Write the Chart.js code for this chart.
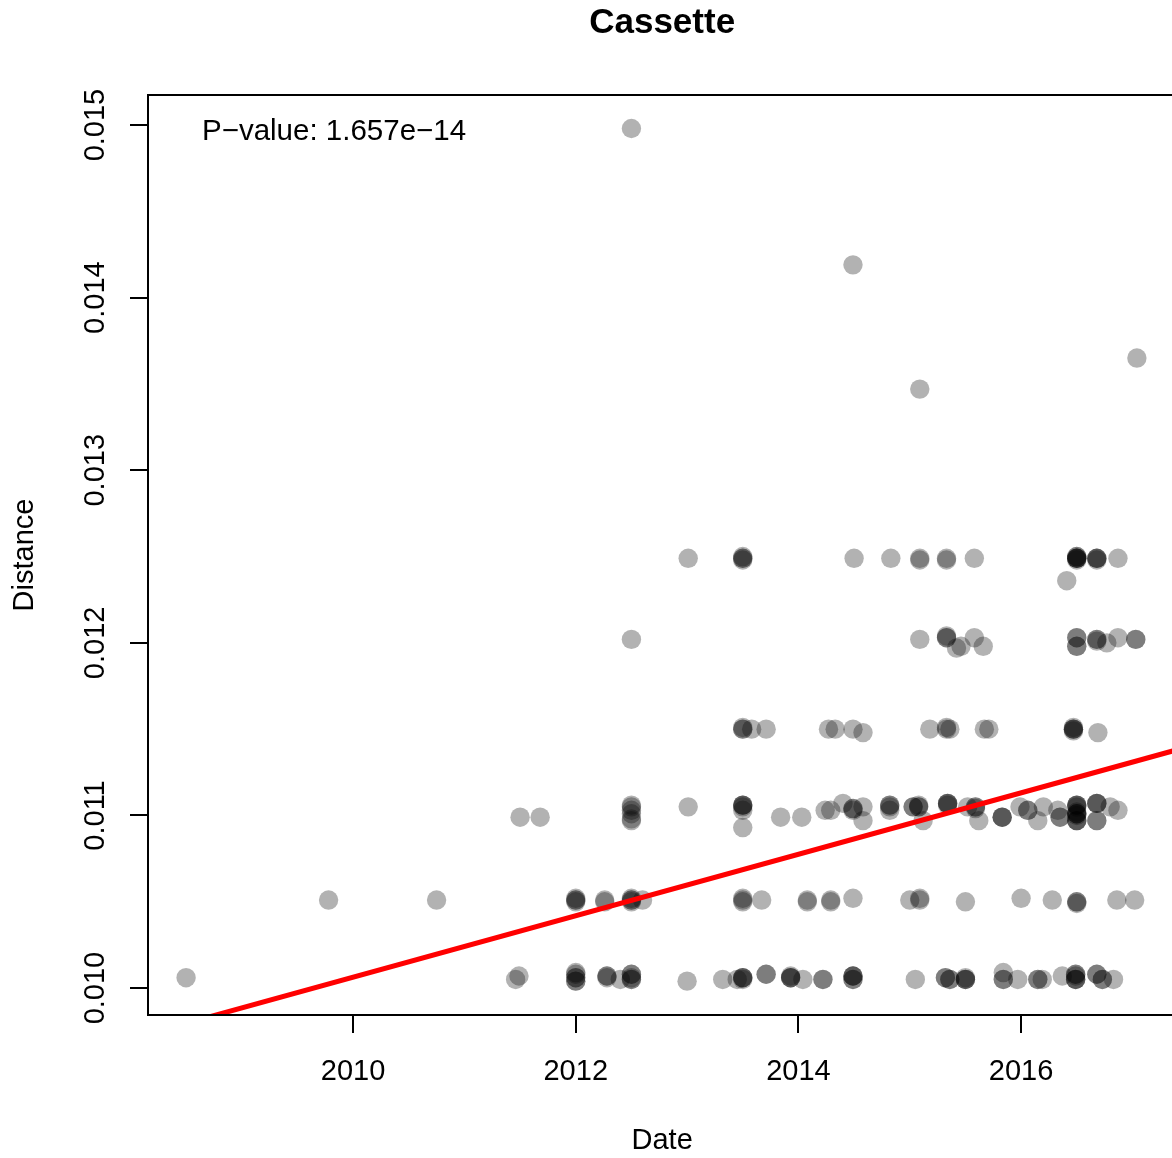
<!DOCTYPE html>
<html>
<head>
<meta charset="utf-8">
<title>Cassette</title>
<script src="https://cdn.jsdelivr.net/npm/chart.js@4.4.1/dist/chart.umd.min.js"></script>
<style>
  html, body { margin: 0; padding: 0; background: #fff; overflow: hidden; }
  #wrap { width: 1186px; height: 1158px; }
</style>
</head>
<body>
<div id="wrap"><canvas id="distChart" width="1186" height="1158"></canvas></div>
<script>
// observation dates (decimal years) and their distances, row by row
const dates = [
  // outliers
  2012.50, 2014.49, 2015.09, 2017.04,
  // ~0.0125
  2013.01, 2013.50, 2013.50, 2013.50, 2013.50, 2014.50, 2014.83, 2015.09, 2015.09,
  2015.33, 2015.33, 2015.58, 2016.41, 2016.50, 2016.50, 2016.50, 2016.50, 2016.50,
  2016.50, 2016.50, 2016.68, 2016.68, 2016.68, 2016.68, 2016.87,
  // ~0.012
  2012.50, 2015.09, 2015.33, 2015.33, 2015.33, 2015.42, 2015.46, 2015.58, 2015.66,
  2016.50, 2016.50, 2016.50, 2016.50, 2016.68, 2016.68, 2016.68, 2016.77, 2016.87,
  2017.03, 2017.03,
  // ~0.0115
  2013.50, 2013.50, 2013.50, 2013.58, 2013.71, 2014.27, 2014.33, 2014.49, 2014.58,
  2015.18, 2015.33, 2015.33, 2015.36, 2015.67, 2015.71, 2016.47, 2016.47, 2016.47,
  2016.47, 2016.47, 2016.69,
  // ~0.011
  2011.50, 2011.68,
  2012.50, 2012.50, 2012.50, 2012.50, 2012.50, 2012.50,
  2013.01,
  2013.50, 2013.50, 2013.50, 2013.50, 2013.50, 2013.50,
  2013.84, 2014.03, 2014.24, 2014.29, 2014.40,
  2014.49, 2014.49, 2014.49,
  2014.58, 2014.58,
  2014.82, 2014.82, 2014.82, 2014.82,
  2015.03, 2015.03,
  2015.08, 2015.08, 2015.08,
  2015.12,
  2015.34, 2015.34, 2015.34, 2015.34,
  2015.52,
  2015.59, 2015.59, 2015.59,
  2015.62,
  2015.83, 2015.83, 2015.83,
  2015.99, 2016.06, 2016.06, 2016.15, 2016.20, 2016.33, 2016.35, 2016.35,
  2016.50, 2016.50, 2016.50, 2016.50, 2016.50, 2016.50, 2016.50, 2016.50, 2016.50, 2016.50,
  2016.50, 2016.50,
  2016.68, 2016.68, 2016.68, 2016.68, 2016.68,
  2016.80, 2016.87,
  // ~0.0105
  2009.78, 2010.75,
  2012.00, 2012.00, 2012.00, 2012.00,
  2012.26, 2012.26,
  2012.50, 2012.50, 2012.50, 2012.50, 2012.60,
  2013.50, 2013.50, 2013.50, 2013.67,
  2014.08, 2014.08, 2014.29, 2014.29, 2014.49,
  2015.00, 2015.09, 2015.09, 2015.50,
  2016.00, 2016.28, 2016.50, 2016.50, 2016.50,
  2016.86, 2017.02,
  // ~0.010
  2008.50, 2011.46, 2011.49,
  2012.00, 2012.00, 2012.00, 2012.00, 2012.00, 2012.00,
  2012.28, 2012.28, 2012.28, 2012.40,
  2012.50, 2012.50, 2012.50, 2012.50, 2012.50,
  2013.00, 2013.32, 2013.45,
  2013.50, 2013.50, 2013.50, 2013.50,
  2013.71, 2013.71,
  2013.93, 2013.93, 2013.93, 2013.93,
  2014.04, 2014.22, 2014.22,
  2014.49, 2014.49, 2014.49, 2014.49, 2014.49,
  2015.05, 2015.32, 2015.32, 2015.36, 2015.36,
  2015.50, 2015.50, 2015.50, 2015.50,
  2015.84, 2015.84, 2015.84, 2015.97,
  2016.15, 2016.15, 2016.19, 2016.37,
  2016.49, 2016.49, 2016.49, 2016.49, 2016.49, 2016.49,
  2016.68, 2016.68, 2016.73, 2016.73, 2016.83
];

const distances = [
  // outliers
  0.01498, 0.01419, 0.01347, 0.01365,
  // ~0.0125
  0.01249, 0.01249, 0.01250, 0.01249, 0.01248, 0.01249, 0.01249, 0.01249, 0.01248,
  0.01249, 0.01248, 0.01249, 0.01236, 0.01250, 0.01249, 0.01249, 0.01248, 0.01249,
  0.01250, 0.01249, 0.01249, 0.01248, 0.01249, 0.01249, 0.01249,
  // ~0.012
  0.01202, 0.01202, 0.01204, 0.01203, 0.01203, 0.01197, 0.01198, 0.01203, 0.01198,
  0.01203, 0.01203, 0.01198, 0.01198, 0.01202, 0.01202, 0.01201, 0.01200, 0.01203,
  0.01202, 0.01202,
  // ~0.0115
  0.01150, 0.01151, 0.01150, 0.01150, 0.01150, 0.01150, 0.01150, 0.01150, 0.01148,
  0.01150, 0.01150, 0.01151, 0.01150, 0.01150, 0.01150, 0.01150, 0.01151, 0.01150,
  0.01149, 0.01150, 0.01148,
  // ~0.011
  0.01099, 0.01099,
  0.01106, 0.01105, 0.01101, 0.01098, 0.01097, 0.01103,
  0.01105,
  0.01106, 0.01106, 0.01105, 0.01103, 0.01093, 0.01106,
  0.01099, 0.01099, 0.01103, 0.01103, 0.01107,
  0.01104, 0.01104, 0.01103,
  0.01097, 0.01105,
  0.01106, 0.01106, 0.01105, 0.01103,
  0.01105, 0.01105,
  0.01105, 0.01105, 0.01106,
  0.01097,
  0.01107, 0.01107, 0.01107, 0.01106,
  0.01105,
  0.01105, 0.01105, 0.01104,
  0.01097,
  0.01099, 0.01099, 0.01099,
  0.01105, 0.01103, 0.01103, 0.01097, 0.01105, 0.01103, 0.01099, 0.01099,
  0.01106, 0.01106, 0.01106, 0.01105, 0.01101, 0.01101, 0.01101, 0.01097, 0.01097, 0.01097,
  0.01102, 0.01100,
  0.01107, 0.01107, 0.01107, 0.01097, 0.01097,
  0.01105, 0.01103,
  // ~0.0105
  0.01051, 0.01051,
  0.01051, 0.01052, 0.01051, 0.01050,
  0.01051, 0.01050,
  0.01052, 0.01051, 0.01051, 0.01050, 0.01051,
  0.01052, 0.01051, 0.01050, 0.01051,
  0.01051, 0.01050, 0.01051, 0.01050, 0.01052,
  0.01051, 0.01052, 0.01051, 0.01050,
  0.01052, 0.01051, 0.01050, 0.01050, 0.01049,
  0.01051, 0.01051,
  // ~0.010
  0.01006, 0.01005, 0.01007,
  0.01009, 0.01008, 0.01006, 0.01006, 0.01004, 0.01004,
  0.01007, 0.01007, 0.01006, 0.01005,
  0.01008, 0.01008, 0.01006, 0.01005, 0.01005,
  0.01004, 0.01005, 0.01005,
  0.01006, 0.01006, 0.01006, 0.01005,
  0.01008, 0.01008,
  0.01006, 0.01006, 0.01007, 0.01006,
  0.01005, 0.01005, 0.01005,
  0.01007, 0.01007, 0.01007, 0.01005, 0.01005,
  0.01005, 0.01006, 0.01006, 0.01005, 0.01005,
  0.01005, 0.01005, 0.01006, 0.01005,
  0.01009, 0.01005, 0.01005, 0.01005,
  0.01005, 0.01005, 0.01005, 0.01007,
  0.01008, 0.01008, 0.01007, 0.01005, 0.01005, 0.01005,
  0.01008, 0.01008, 0.01005, 0.01005, 0.01005
];

const xTicks = [2010, 2012, 2014, 2016];
const yTicks = [0.010, 0.011, 0.012, 0.013, 0.014, 0.015];

// linear fit: distance = fitAt2012 + fitSlope * (year - 2012)
const fitAt2012 = 0.010419;
const fitSlope = 0.000178;
const pLabel = 'P\u2212value: 1.657e\u221214';
const chartTitle = 'Cassette';

const X_MIN = 2008.158, X_MAX = 2017.394;
const Y_MIN = 0.009844, Y_MAX = 0.015174;

const fit = x => fitAt2012 + fitSlope * (x - 2012);
const FONT = '"Liberation Sans", Arial, Helvetica, sans-serif';
const tickFont = { family: FONT, size: 29 };

const points = dates.map((d, i) => ({ x: d, y: distances[i] }));

// box around the plot region plus title and p-value note
const framePlugin = {
  id: 'frame',
  afterDraw(chart) {
    const { ctx, chartArea: a } = chart;
    ctx.save();
    ctx.strokeStyle = '#000';
    ctx.lineWidth = 2;
    ctx.strokeRect(a.left, a.top, a.right - a.left, a.bottom - a.top);
    ctx.fillStyle = '#000';
    ctx.textBaseline = 'middle';
    ctx.textAlign = 'center';
    ctx.font = 'bold 35px ' + FONT;
    ctx.fillText(chartTitle, (a.left + a.right) / 2, 23);
    ctx.textAlign = 'left';
    ctx.font = '29.5px ' + FONT;
    ctx.fillText(pLabel, a.left + 54, a.top + 37);
    ctx.restore();
  }
};

new Chart(document.getElementById('distChart'), {
  type: 'scatter',
  data: {
    datasets: [
      {
        label: 'fit',
        data: [{ x: X_MIN, y: fit(X_MIN) }, { x: X_MAX, y: fit(X_MAX) }],
        showLine: true,
        borderColor: '#ff0000',
        borderWidth: 5,
        pointRadius: 0
      },
      {
        label: 'Distance',
        data: points,
        backgroundColor: 'rgba(0,0,0,0.3)',
        borderWidth: 0,
        pointRadius: 9.7,
        pointHoverRadius: 9.7
      }
    ]
  },
  options: {
    responsive: false,
    animation: false,
    devicePixelRatio: 1,
    layout: { padding: { top: 95, right: 4, bottom: 0, left: 0 } },
    plugins: {
      legend: { display: false },
      title: { display: false },
      tooltip: { enabled: false }
    },
    events: [],
    scales: {
      x: {
        type: 'linear',
        min: X_MIN,
        max: X_MAX,
        afterBuildTicks: s => { s.ticks = xTicks.map(v => ({ value: v })); },
        afterFit: s => { s.height = 143; },
        border: { display: true, color: '#000', width: 2 },
        grid: { drawOnChartArea: false, drawTicks: true, tickLength: 18, color: '#000', lineWidth: 2 },
        ticks: { font: tickFont, color: '#000', padding: 22, maxRotation: 0, callback: v => String(v) },
        title: { display: true, text: 'Date', font: tickFont, color: '#000', padding: { top: 0, bottom: 0 } }
      },
      y: {
        type: 'linear',
        min: Y_MIN,
        max: Y_MAX,
        afterBuildTicks: s => { s.ticks = yTicks.map(v => ({ value: v })); },
        afterFit: s => { s.width = 148; },
        border: { display: true, color: '#000', width: 2 },
        grid: { drawOnChartArea: false, drawTicks: true, tickLength: 18, color: '#000', lineWidth: 2 },
        ticks: {
          font: tickFont, color: '#000', padding: -2,
          minRotation: 90, maxRotation: 90, crossAlign: 'center',
          callback: v => v.toFixed(3)
        },
        title: { display: true, text: 'Distance', font: tickFont, color: '#000', padding: { top: 8, bottom: 0 } }
      }
    }
  },
  plugins: [framePlugin]
});
</script>
</body>
</html>
